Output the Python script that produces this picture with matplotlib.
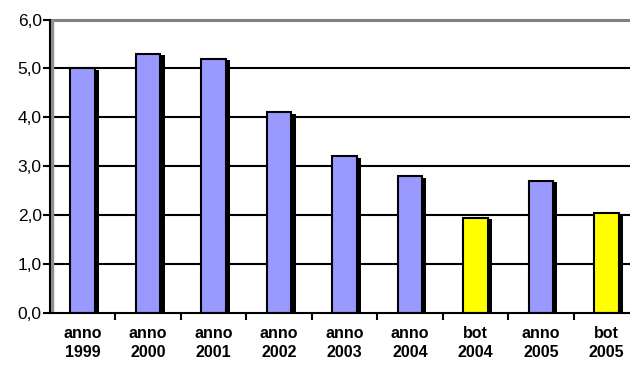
import matplotlib
matplotlib.use("Agg")
import matplotlib.pyplot as plt

# Data
categories = ["anno\n1999", "anno\n2000", "anno\n2001", "anno\n2002", "anno\n2003",
              "anno\n2004", "bot\n2004", "anno\n2005", "bot\n2005"]
values = [5.0, 5.3, 5.2, 4.1, 3.2, 2.8, 1.95, 2.7, 2.05]
kinds = ["anno", "anno", "anno", "anno", "anno", "anno", "bot", "anno", "bot"]
y_ticks = [0, 1, 2, 3, 4, 5, 6]

colors = {"anno": "#9999FF", "bot": "#FFFF00"}

plt.rcParams["font.family"] = ["Liberation Sans", "DejaVu Sans"]

fig = plt.figure(figsize=(6.3, 3.65), dpi=100)
ax = fig.add_axes([50 / 630, 52 / 365, 589 / 630, 293.5 / 365])

x = list(range(len(categories)))
bar_w = 0.375

# horizontal gridlines behind bars
for t in y_ticks[1:-1]:
    ax.axhline(t, color="black", lw=1.5, zorder=0)
ax.axhline(6, color="#808080", lw=2.2, zorder=0, clip_on=False)

# drop shadow on the right of each bar
ax.bar([i + 0.065 for i in x], [v - 0.03 for v in values], width=bar_w,
       color="black", zorder=2, linewidth=0)
# the bars themselves
ax.bar(x, values, width=bar_w, color=[colors[k] for k in kinds],
       edgecolor="black", linewidth=1.5, zorder=3)

ax.set_xlim(-0.5, len(categories) - 0.5)
ax.set_ylim(0, 6)

ax.set_yticks(y_ticks)
ax.set_yticklabels([f"{t:.1f}".replace(".", ",") for t in y_ticks], fontsize=12.5)
ax.tick_params(axis="y", length=5, width=1.5, direction="out", pad=1)

ax.set_xticks(x)
ax.set_xticklabels(categories, fontsize=11.5, fontweight="bold", linespacing=1.35)
ax.tick_params(axis="x", which="major", length=0, pad=9)
ax.set_xticks([i + 0.5 for i in x[:-1]], minor=True)
ax.tick_params(axis="x", which="minor", length=5, width=1.5, direction="out")

for s in ["top", "right"]:
    ax.spines[s].set_visible(False)
ax.spines["left"].set_linewidth(1.5)
ax.spines["bottom"].set_linewidth(1.5)
ax.spines["left"].set_zorder(5)
ax.spines["bottom"].set_zorder(5)
# grey wall edge along the value axis
ax.axvline(-0.5 + 0.035, color="#909090", lw=2.5, zorder=1)

fig.savefig("out.png", dpi=100)
